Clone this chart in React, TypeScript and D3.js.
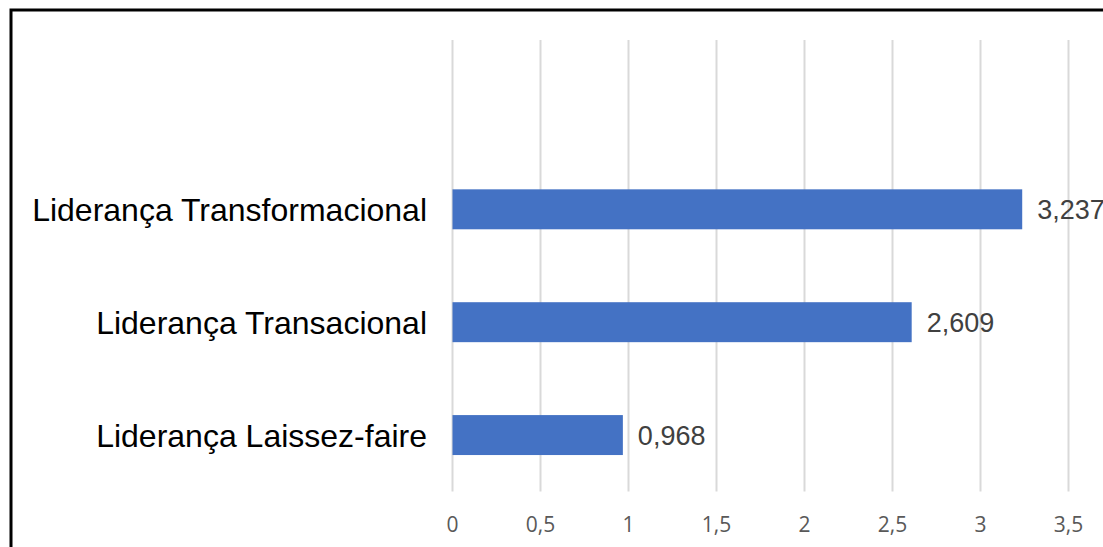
import React, { useEffect, useRef } from 'react';
import * as d3 from 'd3';

// Horizontal bar chart of leadership-style means, Excel-like styling.
const categories = ['Liderança Transformacional', 'Liderança Transacional', 'Liderança Laissez-faire'];
const values = [3.237, 2.609, 0.968];
const tickValues = [0, 0.5, 1, 1.5, 2, 2.5, 3, 3.5];

const WIDTH = 1103;
const HEIGHT = 547;
const PLOT_LEFT = 452.5;
const PLOT_TOP = 40;
const PLOT_BOTTOM = 491.5;
const UNIT = 176;

const ptLocale = d3.formatLocale({ decimal: ',', thousands: '.', grouping: [3], currency: ['R$', ''] });

export default function App() {
  const svgRef = useRef<SVGSVGElement | null>(null);

  useEffect(() => {
    const svg = d3.select(svgRef.current);
    svg.selectAll('*').remove();
    svg.append('rect').attr('width', WIDTH).attr('height', HEIGHT).attr('fill', 'white');

    const x = d3
      .scaleLinear()
      .domain([0, 3.5])
      .range([PLOT_LEFT, PLOT_LEFT + 3.5 * UNIT]);

    // an empty slot sits above the three bars, as in the original
    const y = d3
      .scaleBand()
      .domain(['', ...categories])
      .range([PLOT_TOP, PLOT_BOTTOM])
      .paddingInner(0.646)
      .paddingOuter(0.323);

    // Gridlines
    svg
      .append('g')
      .selectAll('line')
      .data(tickValues)
      .enter()
      .append('line')
      .attr('x1', (d) => x(d))
      .attr('x2', (d) => x(d))
      .attr('y1', PLOT_TOP)
      .attr('y2', PLOT_BOTTOM)
      .attr('stroke', '#d9d9d9')
      .attr('stroke-width', 2);

    // Tick labels
    const fmt = ptLocale.format('~g');
    svg
      .append('g')
      .selectAll('text')
      .data(tickValues)
      .enter()
      .append('text')
      .attr('x', (d) => x(d))
      .attr('y', 532)
      .attr('text-anchor', 'middle')
      .attr('font-family', '"Open Sans", sans-serif')
      .attr('font-size', '21px')
      .attr('fill', '#595959')
      .text((d) => fmt(d));

    // Bars
    svg
      .append('g')
      .selectAll('rect')
      .data(categories)
      .enter()
      .append('rect')
      .attr('x', x(0))
      .attr('y', (d) => y(d)!)
      .attr('width', (_d, i) => x(values[i]) - x(0))
      .attr('height', y.bandwidth())
      .attr('fill', '#4472c4');

    // Value labels
    const vfmt = ptLocale.format('.3f');
    svg
      .append('g')
      .selectAll('text')
      .data(categories)
      .enter()
      .append('text')
      .attr('x', (_d, i) => x(values[i]) + 15)
      .attr('y', (d) => y(d)! + y.bandwidth() / 2)
      .attr('dy', '0.36em')
      .attr('font-family', '"Liberation Sans", Arial, sans-serif')
      .attr('font-size', '27px')
      .attr('fill', '#404040')
      .text((_d, i) => vfmt(values[i]));

    // Category labels
    svg
      .append('g')
      .selectAll('text')
      .data(categories)
      .enter()
      .append('text')
      .attr('x', 427)
      .attr('y', (d) => y(d)! + y.bandwidth() / 2)
      .attr('dy', '0.36em')
      .attr('text-anchor', 'end')
      .attr('font-family', '"Liberation Sans", Arial, sans-serif')
      .attr('font-size', '32px')
      .attr('fill', '#000000')
      .text((d) => d);

    // Frame (top and left edges visible)
    svg
      .append('path')
      .attr('d', `M11,${HEIGHT + 10}V10H${WIDTH + 10}`)
      .attr('fill', 'none')
      .attr('stroke', '#000')
      .attr('stroke-width', 3);
  }, []);

  return (
    <svg
      ref={svgRef}
      width={WIDTH}
      height={HEIGHT}
      style={{ position: 'absolute', left: 0, top: 0, display: 'block' }}
    />
  );
}
